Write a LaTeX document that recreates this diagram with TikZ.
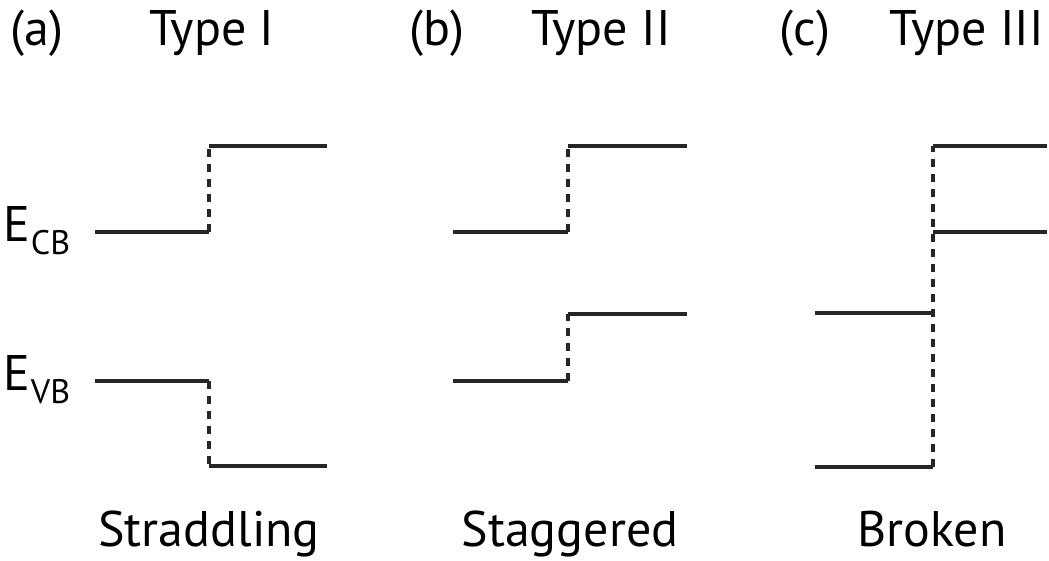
\documentclass[tikz,border=0pt]{standalone}
\usepackage{fontspec}
\setmainfont{PT Sans}
\newcommand{\lowsub}[1]{\kern1pt\raisebox{-13pt}{\fontsize{34}{34}\selectfont #1}}
\begin{document}
\begin{tikzpicture}[x=1pt,y=-1pt,
  level/.style={line width=4.5pt,black!85},
  gap/.style={line width=4pt,black!85,dash pattern=on 8pt off 7pt},
  lbl/.style={font=\fontsize{50}{54}\selectfont,inner sep=0pt,anchor=base}]
\useasboundingbox (0,0) rectangle (1049,561);
% titles
\node[lbl] (ta) at (37,46) {(a)};
\node[lbl] (tA) at (212,46) {Type I};
\node[lbl] (tb) at (437,46) {(b)};
\node[lbl] (tB) at (601,46) {Type II};
\node[lbl] (tc) at (805,46) {(c)};
\node[lbl] (tC) at (967,46) {Type III};
\node[lbl] (sa) at (209,546) {Straddling};
\node[lbl] (sb) at (570,546) {Staggered};
\node[lbl] (sc) at (932,546) {Broken};
\node[lbl,anchor=base west] (ecb) at (3,242) {E\lowsub{CB}};
\node[lbl,anchor=base west] (evb) at (3,390) {E\lowsub{VB}};
% panel a
\coordinate (a1) at (95,232); \coordinate (a2) at (209,232);
\coordinate (a3) at (209,146); \coordinate (a4) at (327,146);
\coordinate (a5) at (95,381); \coordinate (a6) at (209,381);
\coordinate (a7) at (209,466); \coordinate (a8) at (327,466);
\draw[level] (a1) -- (a2); \draw[level] (a3) -- (a4);
\draw[level] (a5) -- (a6); \draw[level] (a7) -- (a8);
\draw[gap] (a2) -- (a3); \draw[gap] (a6) -- (a7);
% panel b
\coordinate (b1) at (453,232); \coordinate (b2) at (568,232);
\coordinate (b3) at (568,146); \coordinate (b4) at (687,146);
\coordinate (b5) at (453,381); \coordinate (b6) at (568,381);
\coordinate (b7) at (568,314); \coordinate (b8) at (687,314);
\draw[level] (b1) -- (b2); \draw[level] (b3) -- (b4);
\draw[level] (b5) -- (b6); \draw[level] (b7) -- (b8);
\draw[gap] (b2) -- (b3); \draw[gap] (b6) -- (b7);
% panel c
\coordinate (c1) at (815,313); \coordinate (c2) at (933,313);
\coordinate (c3) at (933,146); \coordinate (c4) at (1047,146);
\coordinate (c5) at (815,467); \coordinate (c6) at (933,467);
\coordinate (c7) at (933,232); \coordinate (c8) at (1047,232);
\draw[level] (c1) -- (c2); \draw[level] (c3) -- (c4);
\draw[level] (c5) -- (c6); \draw[level] (c7) -- (c8);
\draw[gap] (c6) -- (c3);
\end{tikzpicture}
\end{document}
